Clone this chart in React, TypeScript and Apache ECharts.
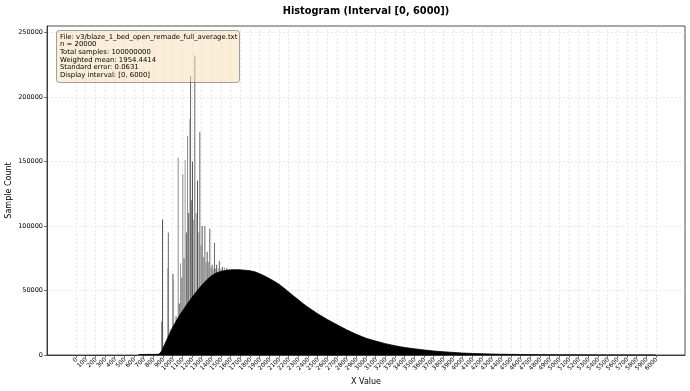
import React, { useEffect, useRef } from "react";
import * as echarts from "echarts";

const titleText = "Histogram (Interval [0, 6000])";
const xName = "X Value";
const yName = "Sample Count";
const infoLines = [
  "File: v3/blaze_1_bed_open_remade_full_average.txt",
  "n = 20000",
  "Total samples: 100000000",
  "Weighted mean: 1954.4414",
  "Standard error: 0.0631",
  "Display interval: [0, 6000]",
];

const xTicks: number[] = [];
for (let v = 0; v <= 6000; v += 100) xTicks.push(v);
const yTicks = [0, 50000, 100000, 150000, 200000, 250000];

// smooth body of the histogram (envelope)
const envX = [650, 850, 870, 890, 900, 925, 950, 975, 1000, 1050, 1100, 1150, 1200, 1250, 1300, 1350, 1400, 1450, 1500, 1550, 1600, 1650, 1700, 1750, 1800, 1850, 1900, 1950, 2000, 2050, 2100, 2150, 2200, 2250, 2300, 2350, 2400, 2500, 2600, 2700, 2800, 2900, 3000, 3100, 3200, 3300, 3400, 3500, 3600, 3700, 3800, 3900, 4000, 4100, 4200, 4300, 4400, 4600, 4800, 5000, 5200, 5500, 5800, 6000];
const envY = [400, 500, 1500, 3500, 5500, 9500, 13500, 17500, 21500, 28000, 34000, 39500, 44500, 49500, 54000, 58000, 61300, 63500, 64800, 65600, 66000, 66100, 66000, 65700, 65300, 64500, 63000, 61300, 59300, 57200, 54800, 52000, 48800, 45800, 42800, 39800, 37000, 32000, 27500, 23500, 19500, 16000, 13000, 10800, 8800, 7200, 5800, 4800, 3900, 3100, 2500, 2000, 1500, 1200, 950, 750, 600, 380, 250, 150, 100, 50, 30, 20];

// isolated spikes
const spikeX = [885, 895, 950, 955, 975, 1003, 1010, 1035, 1057, 1068, 1081, 1095, 1105, 1118, 1129, 1142, 1154, 1166, 1178, 1185, 1195, 1205, 1218, 1229, 1243, 1257, 1270, 1281, 1293, 1305, 1320, 1333, 1345, 1357, 1370, 1384, 1396, 1408, 1420, 1433, 1445, 1455, 1470, 1483, 1500, 1515, 1535, 1560];
const spikeY = [26000, 105000, 67000, 95000, 20000, 63000, 58000, 30000, 153000, 40000, 71000, 60000, 140000, 75000, 151000, 95000, 170000, 110000, 183000, 216000, 120000, 150000, 105000, 232000, 110000, 135000, 95000, 173000, 85000, 100000, 76000, 100000, 72000, 80000, 72000, 98000, 68000, 70000, 67000, 87000, 67000, 70000, 67000, 73000, 67000, 68000, 68000, 67500];

const spikeGrays = ["#8a8a8a", "#555555", "#9a9a9a", "#666666"];

export default function App() {
  const ref = useRef<HTMLDivElement>(null);
  useEffect(() => {
    if (!ref.current) return;
    const chart = echarts.init(ref.current, null, { renderer: "svg" });
    const font = "DejaVu Sans";
    const gridLeft = 47, gridRight = 5, gridTop = 26, gridBottom = 36;
    const plotCx = (gridLeft + (690 - gridRight)) / 2;
    chart.setOption({
      animation: false,
      textStyle: { fontFamily: font },
      grid: {
        left: gridLeft, right: gridRight, top: gridTop, bottom: gridBottom,
        show: true, borderColor: "#222", borderWidth: 0.8, backgroundColor: "transparent",
      },
      xAxis: {
        type: "value", min: -300, max: 6300,
        axisLine: { show: true, onZero: false, lineStyle: { color: "#222", width: 0.8 } },
        axisTick: { show: true, customValues: xTicks, length: 3, lineStyle: { color: "#222", width: 0.6 } },
        axisLabel: { customValues: xTicks, rotate: 45, fontSize: 6, margin: 3, color: "#000", fontFamily: font, formatter: (v: number) => String(v) },
        splitLine: { show: true, lineStyle: { color: "#d9d9d9", width: 0.6, type: [2, 2] } },
      },
      yAxis: {
        type: "value", min: 0, max: 255000,
        axisLine: { show: true, onZero: false, lineStyle: { color: "#222", width: 0.8 } },
        axisTick: { show: true, customValues: yTicks, length: 3, lineStyle: { color: "#222", width: 0.6 } },
        axisLabel: { customValues: yTicks, fontSize: 6.5, margin: 4, color: "#000", fontFamily: font, formatter: (v: number) => String(v) },
        splitLine: { show: true, lineStyle: { color: "#d9d9d9", width: 0.6, type: [2, 2] } },
      },
      series: [
        {
          type: "bar",
          data: spikeX.map((x, i) => [x, spikeY[i]]),
          barWidth: 1,
          itemStyle: { color: (p: any) => spikeGrays[p.dataIndex % spikeGrays.length] },
          z: 2,
          silent: true,
        },
        {
          type: "line",
          data: envX.map((x, i) => [x, envY[i]]),
          symbol: "none",
          lineStyle: { color: "#000", width: 0.8 },
          areaStyle: { color: "#000", opacity: 1 },
          z: 3,
          silent: true,
        },
      ],
      graphic: [
        {
          type: "text", x: plotCx, y: 10, z: 50,
          style: { text: titleText, fontFamily: font, fontSize: 9.8, fontWeight: "bold", fill: "#000", align: "center", verticalAlign: "middle" },
        },
        {
          type: "text", x: plotCx, y: 381, z: 50,
          style: { text: xName, fontFamily: font, fontSize: 8, fill: "#000", align: "center", verticalAlign: "middle" },
        },
        {
          type: "text", x: 8.5, y: (gridTop + 391 - gridBottom) / 2, rotation: Math.PI / 2, z: 50,
          style: { text: yName, fontFamily: font, fontSize: 8, fill: "#000", align: "center", verticalAlign: "middle" },
        },
        {
          type: "rect", z: 100,
          shape: { x: 56.5, y: 30.5, width: 183, height: 52, r: 3 },
          style: { fill: "rgba(245,222,179,0.5)", stroke: "rgba(0,0,0,0.45)", lineWidth: 0.8 },
        },
        {
          type: "text", x: 60, y: 33, z: 101,
          style: { text: infoLines.join("\n"), fontFamily: font, fontSize: 6.9, lineHeight: 7.6, fill: "#000", align: "left", verticalAlign: "top" },
        },
      ],
    });
    return () => chart.dispose();
  }, []);
  return <div ref={ref} style={{ position: "fixed", left: 0, top: 0, width: 690, height: 391 }} />;
}
